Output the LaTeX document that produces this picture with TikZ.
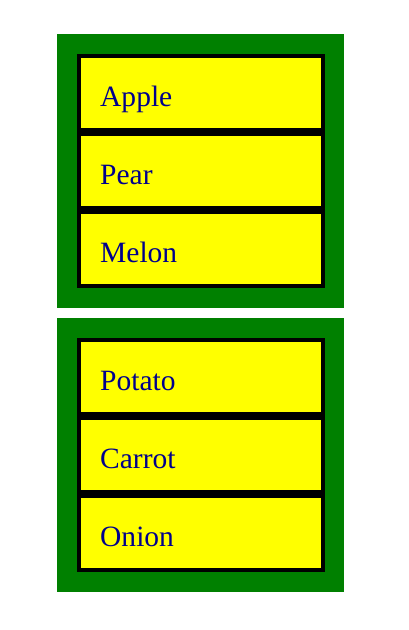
\documentclass[tikz,border=0pt]{standalone}
\usepackage{fontspec}
\setmainfont{Liberation Serif}
\definecolor{gCol}{rgb}{0, 0.5, 0}
\definecolor{yCol}{rgb}{1, 1, 0}
\definecolor{tCol}{rgb}{0, 0, 0.55}

\begin{document}
\begin{tikzpicture}[x=1bp,y=-1bp,
    group/.style={fill=gCol,minimum width=287bp,minimum height=274bp,inner sep=0pt},
    item/.style={draw=black,line width=4bp,fill=yCol,minimum width=244bp,minimum height=74bp,inner sep=0pt},
    word/.style={anchor=base west,inner sep=0pt,text=tCol,font=\fontsize{29.5bp}{32bp}\selectfont}]
%      \draw [help lines] (0, 0) grid (408, 630);
      \useasboundingbox (0,0) rectangle (408,630);
      \foreach \g/\y in {fruit/171,veg/455} {
        \node [group] (\g) at (200.5,\y) {};
      }
      \foreach \n/\t/\y in {apple/Apple/93,pear/Pear/171,melon/Melon/249,
                            potato/Potato/377,carrot/Carrot/455,onion/Onion/533} {
        \node [item] (\n) at (201,\y) {};
        \node [word] (\n-txt) at (100,\y+13.2) {\t};
      }
    \end{tikzpicture}
\end{document}
